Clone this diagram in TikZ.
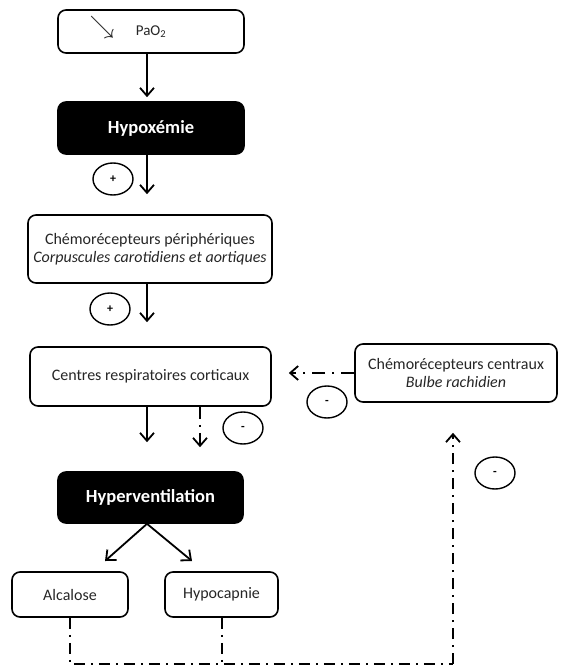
\documentclass[tikz,border=0pt]{standalone}
\usepackage{fontspec}
\setmainfont{Carlito}
\usetikzlibrary{arrows.meta,shapes.geometric,calc}
\begin{document}
\begin{tikzpicture}[x=1pt,y=-1pt,
  box/.style={draw=black, line width=1.6pt, rounded corners=8pt, align=center,
    inner sep=0pt, font=\fontsize{16}{18}\selectfont, text=black!85},
  darkbox/.style={box, fill=black, text=white, font=\fontsize{18.5}{20}\selectfont\bfseries},
  arr/.style={line width=1.8pt, -{Straight Barb[length=8pt,width=14pt,line width=1.8pt]}},
  dd/.style={line width=1.8pt, dash pattern=on 11pt off 6pt on 2pt off 6pt},
  sign/.style={draw, ellipse, line width=1.4pt, minimum width=40pt, minimum height=32pt,
    inner sep=0pt, font=\fontsize{12}{12}\selectfont\bfseries}
]
\useasboundingbox (0,0) rectangle (560,668);

% boxes
\node[box, minimum width=186pt, minimum height=43pt] (pao) at (151,31.5) {};
\node[font=\fontsize{15}{15}\selectfont, text=black!85] (paotxt) at (151,32) {PaO\textsubscript{2}};
\node[font=\fontsize{24}{24}\selectfont, inner sep=0pt, text=black!85] (down) at (102,27) {$\searrow$};
\node[darkbox, minimum width=186pt, minimum height=52pt] (hypox) at (151,128) {Hypoxémie};
\node[box, minimum width=244pt, minimum height=68pt] (periph) at (150,249)
  {Chémorécepteurs périphériques\\\textit{Corpuscules carotidiens et aortiques}};
\node[box, minimum width=241pt, minimum height=59pt] (centres) at (150.5,376.5)
  {Centres respiratoires corticaux};
\node[box, minimum width=202pt, minimum height=58pt] (central) at (456,373)
  {Chémorécepteurs centraux\\\textit{Bulbe rachidien}};
\node[darkbox, minimum width=185pt, minimum height=51pt] (hyperv) at (150.5,497.5) {Hyperventilation};
\node[box, minimum width=116pt, minimum height=45pt] (alc) at (70,594.5) {Alcalose};
\node[box, minimum width=113pt, minimum height=45pt] (hypoc) at (221.5,594.5) {Hypocapnie};

% signs
\node[sign] (s1) at (113,179) {+};
\node[sign] (s2) at (110,309) {+};
\node[sign] (s3) at (327,402) {-};
\node[sign] (s4) at (243,428) {-};
\node[sign] (s5) at (495,473) {-};

% main arrows
\draw[arr, shorten >=4pt] (pao.south -| 147,0) -- (hypox.north -| 147,0);
\draw[arr, shorten >=20pt] (hypox.south -| 147,0) -- (periph.north -| 147,0);
\draw[arr, shorten >=24pt] (periph.south -| 147,0) -- (centres.north -| 147,0);
\draw[arr, shorten >=29pt] (centres.south -| 147,0) -- (hyperv.north -| 147,0);
\draw[arr, dash pattern=on 12pt off 6pt on 2pt off 6pt, shorten >=24pt]
  (centres.south -| 200,0) -- (hyperv.north -| 200,0);

\coordinate (tA) at (105,561);
\coordinate (tB) at (192,561);
\draw[arr] (hyperv.south -| 147,0) -- (tA);
\draw[arr] (hyperv.south -| 147,0) -- (tB);

% feedback
\draw[arr, dash pattern=on 13pt off 7pt on 2pt off 7pt, shorten >=17pt]
  (central.west) -- (centres.east |- central.west);

\coordinate (bl) at (70,664);
\coordinate (br) at (453,664);
\draw[dd] (alc.south) -- (bl) -- (br);
\draw[dd] (hypoc.south -| 222,0) -- (222,664);
\draw[arr, dash pattern=on 11pt off 6pt on 2pt off 6pt, shorten >=30pt]
  (br) -- (central.south -| br);
\end{tikzpicture}
\end{document}
